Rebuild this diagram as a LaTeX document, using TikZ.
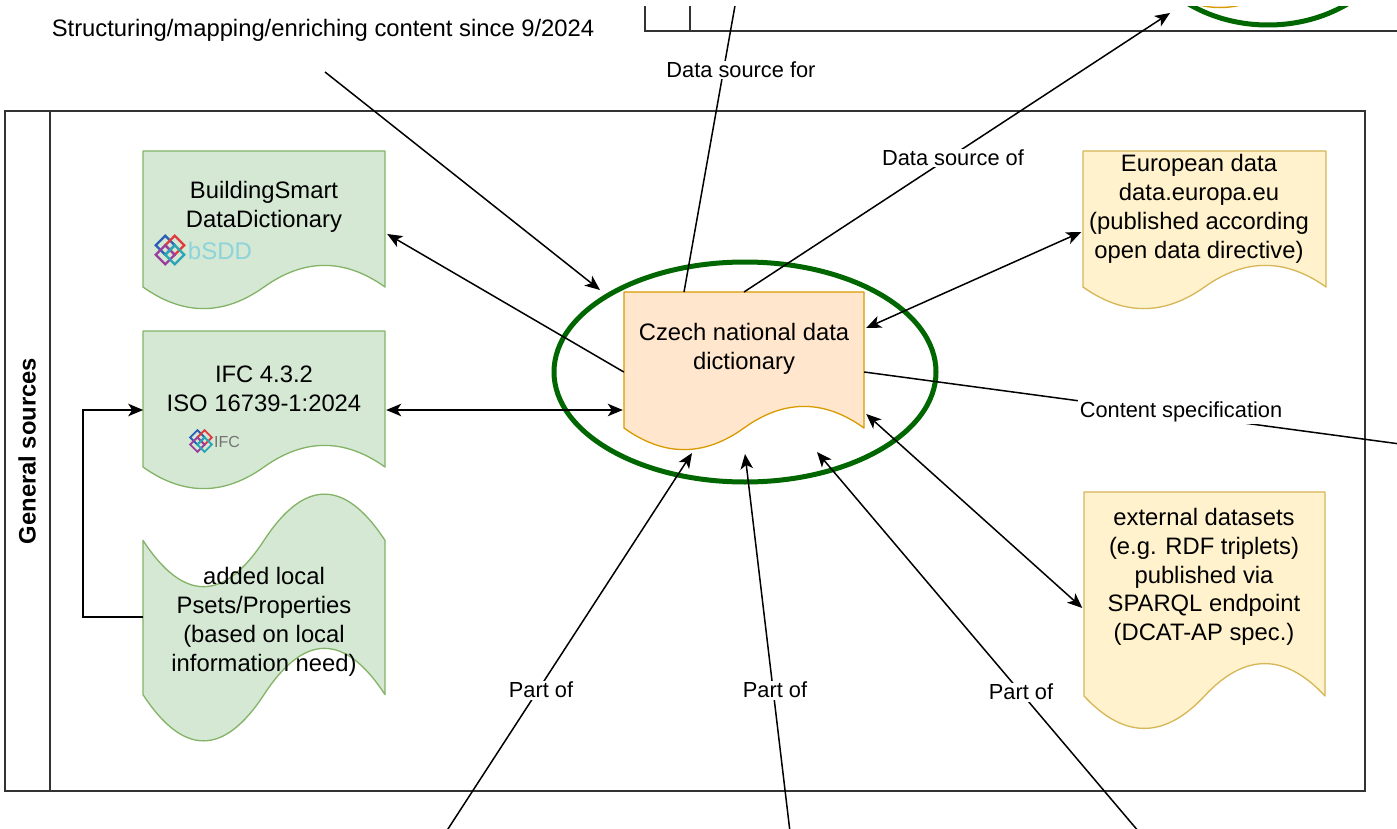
\documentclass[tikz,border=0pt]{standalone}
\usepackage{fontspec}
\setmainfont{Liberation Sans}
\usetikzlibrary{arrows.meta,calc}
\definecolor{gfill}{HTML}{D5E8D4}
\definecolor{gdraw}{HTML}{82B366}
\definecolor{yfill}{HTML}{FFF2CC}
\definecolor{ydraw}{HTML}{D6B656}
\definecolor{ofill}{HTML}{FFE6CC}
\definecolor{odraw}{HTML}{D79B00}
\definecolor{ellgreen}{HTML}{006600}
\definecolor{poolc}{HTML}{333333}
\definecolor{bsddtxt}{HTML}{8CD3DB}
\definecolor{lblue}{HTML}{2B5FB5}
\definecolor{lred}{HTML}{E03A3E}
\definecolor{lpurple}{HTML}{9B3E9E}
\definecolor{lteal}{HTML}{2AA5B5}
\newcommand\nfont{\fontsize{23.8}{28.8}\selectfont}
\newcommand\lfont{\fontsize{21.8}{26}\selectfont}
% document shape: x y w h fill draw
\newcommand\docshape[6]{%
  \pgfmathsetmacro\dX{#1}\pgfmathsetmacro\dY{#2}%
  \pgfmathsetmacro\dW{#3}\pgfmathsetmacro\dH{#4}%
  \pgfmathsetmacro\dd{0.3*#4}%
  \path[fill=#5,draw=#6,line width=1.3pt,line join=round]
    (\dX,\dY) -- (\dX+\dW,\dY) -- (\dX+\dW,\dY+\dH-\dd/2)
    .. controls (\dX+5*\dW/6,\dY+\dH-1.1*\dd) and (\dX+2*\dW/3,\dY+\dH-1.1*\dd) .. (\dX+\dW/2,\dY+\dH-\dd/2)
    .. controls (\dX+\dW/3,\dY+\dH+0.1*\dd) and (\dX+\dW/6,\dY+\dH+0.1*\dd) .. (\dX,\dY+\dH-\dd/2)
    -- cycle;}
% tape shape
\newcommand\tapeshape[6]{%
  \pgfmathsetmacro\dX{#1}\pgfmathsetmacro\dY{#2}%
  \pgfmathsetmacro\dW{#3}\pgfmathsetmacro\dH{#4}%
  \pgfmathsetmacro\dd{0.4*#4}%
  \path[fill=#5,draw=#6,line width=1.3pt,line join=round]
    (\dX,\dY+\dd/2)
    .. controls (\dX+\dW/6,\dY+1.1*\dd) and (\dX+\dW/3,\dY+1.1*\dd) .. (\dX+\dW/2,\dY+\dd/2)
    .. controls (\dX+2*\dW/3,\dY-0.1*\dd) and (\dX+5*\dW/6,\dY-0.1*\dd) .. (\dX+\dW,\dY+\dd/2)
    -- (\dX+\dW,\dY+\dH-\dd/2)
    .. controls (\dX+5*\dW/6,\dY+\dH-1.1*\dd) and (\dX+2*\dW/3,\dY+\dH-1.1*\dd) .. (\dX+\dW/2,\dY+\dH-\dd/2)
    .. controls (\dX+\dW/3,\dY+\dH+0.1*\dd) and (\dX+\dW/6,\dY+\dH+0.1*\dd) .. (\dX,\dY+\dH-\dd/2)
    -- cycle;}
% bS logo: centre x y, scale
\newcommand\bslogo[3]{%
  \begin{scope}[shift={(#1,#2)},scale=#3,line width=2.6pt*#3]
    \draw[lblue]   (-5,-15) -- (5,-5) -- (-5,5) -- (-15,-5) -- cycle;
    \draw[lred]    (5,-15) -- (15,-5) -- (5,5) -- (-5,-5) -- cycle;
    \draw[lpurple] (-5,-5) -- (5,5) -- (-5,15) -- (-15,5) -- cycle;
    \draw[lteal]   (5,-5) -- (15,5) -- (5,15) -- (-5,5) -- cycle;
  \end{scope}}
\tikzset{
  pool/.style={draw=poolc,line width=1.8pt},
  conn/.style={draw=black,line width=1.5pt},
  arr/.style={conn,-{Stealth[length=15pt,width=12.5pt,inset=4pt]}},
  darr/.style={conn,{Stealth[length=15pt,width=12.5pt,inset=4pt]}-{Stealth[length=15pt,width=12.5pt,inset=4pt]}},
  ell/.style={draw=ellgreen,line width=5pt},
  ntext/.style={align=center,inner sep=0pt,font=\nfont,text=black},
  lbl/.style={align=center,inner sep=1.5pt,font=\lfont,fill=white,text=black},
  anchorbox/.style={inner sep=0pt,draw=none}
}
\begin{document}
\begin{tikzpicture}[x=1pt,y=-1pt]
\useasboundingbox (0,0) rectangle (1397,829);
\fill[white] (0,0) rectangle (1397,829);
\begin{scope}
\clip (0,7) rectangle (1397,829);

% containers
\draw[pool] (5,111) rectangle (1365,791);
\draw[pool] (50,111) -- (50,791);
\draw[pool] (645,0) -- (645,31) -- (1400,31);
\draw[pool] (690,0) -- (690,31);
\node[font=\nfont\bfseries,rotate=90,inner sep=0pt] (pooltitle) at (27,451) {General sources};

% partial shapes at top right
\docshape{1160}{-150}{240}{160}{ofill}{odraw}
\draw[ell] (1268,-85) ellipse [x radius=135, y radius=110];

% documents
\docshape{143}{151}{242}{160}{gfill}{gdraw}
\node[anchorbox,minimum width=242pt,minimum height=160pt] (bsdd) at (264,231) {};
\node[ntext] (bsddt) at (264,207) {BuildingSmart\\DataDictionary};
\bslogo{170}{250}{0.95}
\node[inner sep=0pt,font=\fontsize{24}{24}\selectfont,text=bsddtxt] (bsddlogo) at (220,251) {bSDD};

\docshape{143}{331}{242}{160}{gfill}{gdraw}
\node[anchorbox,minimum width=242pt,minimum height=160pt] (ifc) at (264,411) {};
\node[ntext] (ifct) at (264,389) {IFC 4.3.2\\ISO 16739-1:2024};
\bslogo{201}{441}{0.72}
\node[inner sep=0pt,font=\fontsize{16}{16}\selectfont,text=black!55] (ifclogo) at (227,442) {IFC};

\tapeshape{143}{489}{242}{257}{gfill}{gdraw}
\node[anchorbox,minimum width=242pt,minimum height=257pt] (local) at (264,617) {};
\node[ntext] (localt) at (264,622) {added local\\Psets/Properties\\(based on local\\information need)};

\docshape{624}{292}{240}{160}{ofill}{odraw}
\node[anchorbox,minimum width=240pt,minimum height=160pt] (cz) at (744,372) {};
\node[ntext] (czt) at (744,349) {Czech national data\\dictionary};

\docshape{1083}{151}{243}{160}{yfill}{ydraw}
\node[anchorbox,minimum width=243pt,minimum height=160pt] (eu) at (1204,231) {};
\node[ntext] (eut) at (1199,209) {European data\\data.europa.eu\\(published according\\open data directive)};

\docshape{1084}{492}{241}{240}{yfill}{ydraw}
\node[anchorbox,minimum width=241pt,minimum height=240pt] (ext) at (1204,612) {};
\node[ntext] (extt) at (1204,577) {external datasets\\(e.g. RDF triplets)\\published via\\SPARQL endpoint\\(DCAT-AP spec.)};

% green ellipse
\draw[ell] (745,372) ellipse [x radius=191, y radius=110];

% title
\node[inner sep=0pt,font=\nfont] (title) at (323,30) {Structuring/mapping/enriching content since 9/2024};

% connector end points
\coordinate (stS) at (325,72);
\coordinate (stE) at (600,290);
\coordinate (dsfS) at (684,292);
\coordinate (dsfE) at (736,0);
\coordinate (dsoS) at (744,292);
\coordinate (dsoE) at (1170,13);
\coordinate (csE) at (1400,444);
\coordinate (p1S) at (446,832);
\coordinate (p1E) at (692,453);
\coordinate (p2S) at (790,832);
\coordinate (p2E) at (745,454);
\coordinate (p3S) at (1139,832);
\coordinate (p3E) at (817,452);

% connectors
\draw[arr] (stS) -- (stE);
\draw[arr] (cz.west) -- ($(bsdd.east)+(2,3)$);
\draw[darr] ($(ifc.east)+(1,-1)$) -- ($(cz.west)+(-1,38)$);
\draw[arr] ($(local.west)+(0,0)$) -- ++(-60,0) |- ($(ifc.east)+(-242,-1)$);
\draw[darr] ($(cz.east)+(2,-44)$) -- ($(eu.west)+(-1,1)$);
\draw[darr] ($(cz.east)+(2,42)$) -- ($(ext.west)+(-1,-4)$);
\draw[conn] (cz.east) -- (csE);
\draw[conn] (dsfS) -- (dsfE);
\draw[arr] (dsoS) -- (dsoE);
\draw[arr] (p1S) -- (p1E);
\draw[arr] (p2S) -- (p2E);
\draw[arr] (p3S) -- (p3E);

% labels
\node[lbl] (l1) at (741,70) {Data source for};
\node[lbl] (l2) at (953,158) {Data source of};
\node[lbl] (l3) at (1181,412) {Content specification};
\node[lbl] (l4) at (541,690) {Part of};
\node[lbl] (l5) at (775,690) {Part of};
\node[lbl] (l6) at (1021,692) {Part of};
\end{scope}
\end{tikzpicture}
\end{document}
